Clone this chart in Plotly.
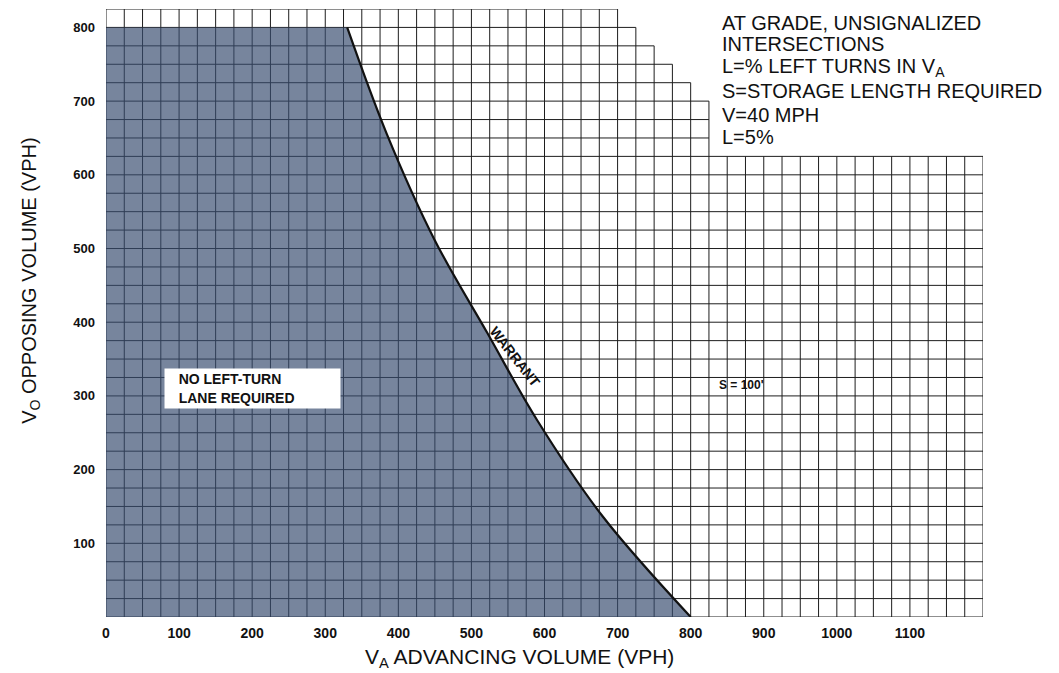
import plotly.graph_objects as go

# ---- data ----
x_tick_vals = [0, 100, 200, 300, 400, 500, 600, 700, 800, 900, 1000, 1100]
y_tick_vals = [100, 200, 300, 400, 500, 600, 700, 800]

# warrant curve (V_A advancing, V_O opposing)
warrant_x = [330, 384, 450, 522, 590, 680, 800]
warrant_y = [800, 656, 511, 385, 267, 136, 0]

# stepped outline of the printed grid (column edges and top of each column)
grid_edges_x = [0, 700, 725, 750, 775, 800, 825, 1200]
grid_tops_y = [825, 800, 775, 750, 725, 700, 625]
grid_step = 25

info_lines = [
    "AT GRADE, UNSIGNALIZED",
    "INTERSECTIONS",
    "L=% LEFT TURNS IN V<sub>A</sub>",
    "S=STORAGE LENGTH REQUIRED",
    "V=40 MPH",
    "L=5%",
]
info_y = [806, 778, 746, 714, 681, 651]

# ---- build grid from outline ----
def col_top(xc):
    for i in range(len(grid_tops_y)):
        if grid_edges_x[i] <= xc < grid_edges_x[i + 1]:
            return grid_tops_y[i]
    return None

x_max = grid_edges_x[-1]
y_max = grid_tops_y[0]
gx, gy = [], []
xv = 0
while xv <= x_max:
    tops = []
    if xv > 0:
        tops.append(col_top(xv - grid_step / 2))
    if xv < x_max:
        tops.append(col_top(xv + grid_step / 2))
    gx += [xv, xv, None]
    gy += [0, max(tops), None]
    xv += grid_step
yv = 0
while yv <= y_max:
    x_end = 0
    for i, t in enumerate(grid_tops_y):
        if t >= yv:
            x_end = grid_edges_x[i + 1]
    gx += [0, x_end, None]
    gy += [yv, yv, None]
    yv += grid_step

fig = go.Figure()
fig.add_trace(go.Scatter(x=gx, y=gy, mode="lines",
                         line=dict(color="#1e1e1e", width=1),
                         hoverinfo="skip", showlegend=False))
fig.add_trace(go.Scatter(x=warrant_x, y=warrant_y, mode="lines",
                         fill="tozerox", fillcolor="rgba(55,75,110,0.68)",
                         line=dict(color="#111111", width=2.2, shape="spline", smoothing=1.0),
                         hoverinfo="skip", showlegend=False))

FONT = "Liberation Sans, Arial"
ann = []
for t, yy in zip(info_lines, info_y):
    ann.append(dict(x=840, y=yy, xref="x", yref="y", text=t, showarrow=False,
                    xanchor="left", yanchor="middle",
                    font=dict(family=FONT, size=20, color="#111")))
ann.append(dict(x=0.471, y=-0.067, xref="paper", yref="paper",
                text="V<sub>A</sub> ADVANCING VOLUME (VPH)", showarrow=False,
                xanchor="center", yanchor="middle",
                font=dict(family=FONT, size=21, color="#111")))
ann.append(dict(x=-0.087, y=0.554, xref="paper", yref="paper", textangle=-90,
                text="V<sub>O</sub> OPPOSING VOLUME (VPH)", showarrow=False,
                xanchor="center", yanchor="middle",
                font=dict(family=FONT, size=20, color="#111")))
ann.append(dict(x=869, y=315, xref="x", yref="y", text="S = 100'", showarrow=False,
                font=dict(family=FONT, size=12, color="#111", weight="bold")))
ann.append(dict(x=560, y=353, xref="x", yref="y", text="WARRANT", showarrow=False,
                textangle=52,
                font=dict(family=FONT, size=14, color="#111", weight="bold")))
ann.append(dict(x=200, y=310, xref="x", yref="y",
                text="&nbsp;&nbsp;&nbsp;NO LEFT-TURN<br>&nbsp;&nbsp;&nbsp;LANE REQUIRED",
                showarrow=False, align="left", width=171, height=35,
                bgcolor="white", borderpad=2,
                font=dict(family=FONT, size=14, color="#111", weight="bold")))

fig.update_layout(
    width=1051, height=665,
    margin=dict(l=98, r=76, t=1, b=56),
    paper_bgcolor="white", plot_bgcolor="white",
    annotations=ann,
    xaxis=dict(range=[0, 1200], showgrid=False, zeroline=False, showline=False,
               tickvals=x_tick_vals, ticks="", ticklabelstandoff=6,
               tickfont=dict(family="Liberation Sans Narrow, Liberation Sans, Arial", size=14,
                             color="#111", weight="bold")),
    yaxis=dict(range=[0, 825], showgrid=False, zeroline=False, showline=False,
               tickvals=y_tick_vals, ticks="", ticklabelstandoff=10,
               tickfont=dict(family="Liberation Sans Narrow, Liberation Sans, Arial", size=13,
                             color="#111", weight="bold")),
)

fig.write_html("out.html")
